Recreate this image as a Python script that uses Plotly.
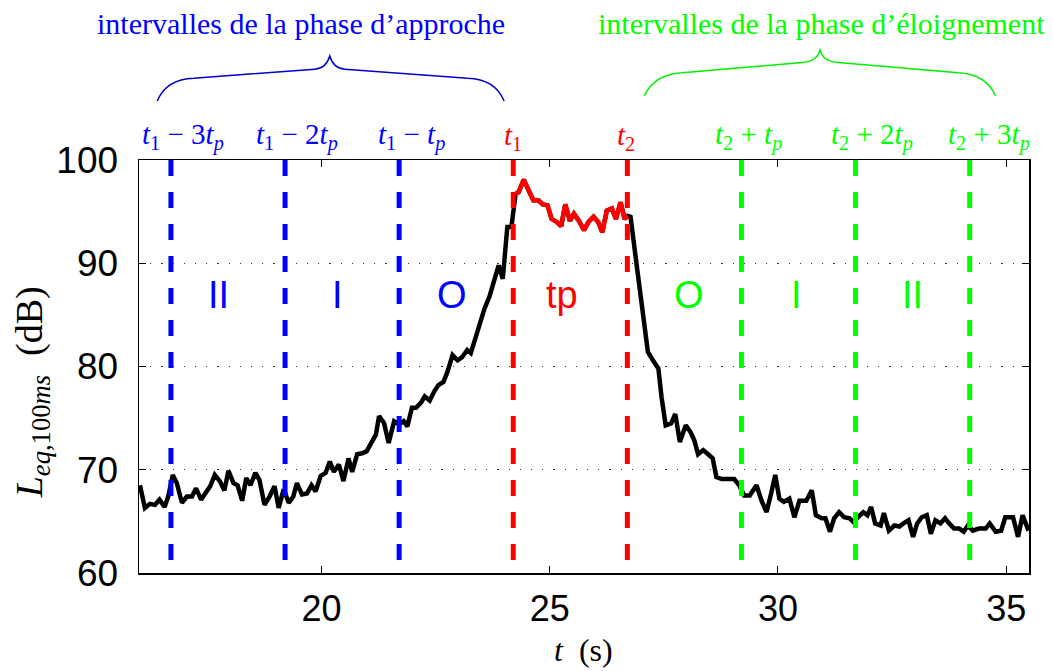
import plotly.graph_objects as go

# ---- data ----
t_approach = [16.02,16.13,16.24,16.35,16.45,16.56,16.64,16.74,16.83,16.94,
              17.05,17.16,17.25,17.36,17.45,17.56,17.66,17.77,17.87,17.96,
              18.07,18.16,18.26,18.35,18.44,18.55,18.64,18.75,18.86,18.97,
              19.06,19.17,19.28,19.38,19.46,19.57,19.68,19.78,19.87,19.98,
              20.09,20.18,20.27,20.38,20.48,20.59,20.67,20.78,20.89,20.99,
              21.09,21.19,21.26,21.37,21.47,21.59,21.70,21.80,21.88,21.98,
              22.07,22.18,22.26,22.37,22.47,22.56,22.67,22.76,22.87,22.98,
              23.08,23.19,23.27,23.38,23.48,23.57,23.68,23.79,23.88,23.97,
              24.07,24.16]
L_approach = [68.5,66.3,66.7,66.6,67.1,66.4,67.4,69.5,68.7,66.8,
              67.4,67.4,68.2,67.1,67.7,68.4,69.5,68.9,68.0,69.9,
              68.7,68.5,67.0,69.2,68.5,69.7,69.0,66.6,67.4,68.4,
              66.3,68.1,66.8,67.4,68.7,67.6,67.7,68.5,67.9,69.4,
              69.7,70.8,69.8,70.5,68.9,71.1,69.8,71.5,71.6,71.8,
              72.6,73.4,75.2,74.5,72.6,74.7,74.4,74.7,74.2,76.0,
              76.0,76.5,77.1,76.7,77.6,78.2,78.5,79.5,81.1,80.6,
              80.9,81.6,81.3,82.9,84.4,85.6,86.8,88.4,89.8,88.5,
              93.5,93.5]
t_pass = [24.25,24.32,24.43,24.52,24.64,24.75,24.85,24.95,25.04,25.15,
          25.25,25.34,25.44,25.53,25.64,25.75,25.85,25.96,26.06,26.15,
          26.25,26.36,26.45,26.55,26.64,26.71]
L_pass = [96.7,96.9,98.1,97.2,96.1,96.1,95.7,95.6,94.3,94.0,
          93.6,95.7,94.1,94.8,94.1,93.2,94.0,94.5,94.0,93.0,
          95.1,95.3,94.3,95.9,94.3,94.6]
t_recede = [26.77,26.89,27.00,27.15,27.26,27.38,27.45,27.54,27.66,27.75,
            27.85,27.98,28.09,28.17,28.25,28.36,28.47,28.57,28.65,28.77,
            28.89,29.04,29.15,29.26,29.38,29.53,29.64,29.75,29.85,29.94,
            30.03,30.13,30.25,30.36,30.47,30.62,30.74,30.83,30.96,31.04,
            31.14,31.23,31.34,31.45,31.57,31.66,31.75,31.87,31.96,32.04,
            32.13,32.25,32.32,32.43,32.55,32.66,32.75,32.86,32.96,33.05,
            33.15,33.26,33.35,33.45,33.56,33.66,33.75,33.86,33.97,34.07,
            34.16,34.27,34.40,34.55,34.64,34.77,34.89,34.98,35.15,35.26,
            35.36,35.49]
L_recede = [94.5,90.3,86.4,81.4,80.6,79.8,77.0,74.3,74.5,75.4,
            72.7,74.3,73.6,72.8,71.5,71.9,71.5,71.1,69.3,69.1,
            69.1,69.1,68.5,67.5,67.5,68.5,67.0,65.9,67.7,69.5,
            67.2,66.9,67.2,65.4,67.0,67.0,68.0,65.6,65.3,65.3,
            64.0,65.3,65.9,65.4,65.3,64.9,65.4,65.9,65.6,66.4,
            64.8,64.6,65.8,64.1,64.6,64.5,64.8,65.1,63.5,64.8,
            65.4,65.6,63.8,65.1,64.8,65.3,64.8,64.3,64.3,64.0,
            64.6,64.1,64.3,64.3,64.8,64.0,64.1,65.4,65.4,63.5,
            65.6,64.1]

t1 = 24.2
t2 = 26.7
tp = 2.5
line_times = [t1 - 3*tp, t1 - 2*tp, t1 - tp, t1, t2, t2 + tp, t2 + 2*tp, t2 + 3*tp]
line_colors = ["#0000FF", "#0000FF", "#0000FF", "#FF0000", "#FF0000", "#00FF00", "#00FF00", "#00FF00"]
line_labels = ["<i>t</i><sub>1</sub> − 3<i>t<sub>p</sub></i>",
               "<i>t</i><sub>1</sub> − 2<i>t<sub>p</sub></i>",
               "<i>t</i><sub>1</sub> − <i>t<sub>p</sub></i>",
               "<i>t</i><sub>1</sub>",
               "<i>t</i><sub>2</sub>",
               "<i>t</i><sub>2</sub> + <i>t<sub>p</sub></i>",
               "<i>t</i><sub>2</sub> + 2<i>t<sub>p</sub></i>",
               "<i>t</i><sub>2</sub> + 3<i>t<sub>p</sub></i>"]
label_offsets = [0.26, 0.26, 0.26, 0.0, -0.04, 0.15, 0.37, 0.42]

zone_names = ["II", "I", "O", "tp", "O", "I", "II"]
zone_colors = ["#0000FF", "#0000FF", "#0000FF", "#FF0000", "#00FF00", "#00FF00", "#00FF00"]
zone_offsets = [-0.2, -0.1, -0.09, -0.19, 0.09, -0.04, 0.0]
zone_level = 86.9

t_all = t_approach + t_pass + t_recede
L_all = L_approach + L_pass + L_recede

fig = go.Figure()
fig.add_trace(go.Scatter(x=t_all, y=L_all, mode="lines",
                         line=dict(color="black", width=4.5), hoverinfo="skip"))
fig.add_trace(go.Scatter(x=t_pass, y=L_pass, mode="lines",
                         line=dict(color="#FF0000", width=4.5), hoverinfo="skip"))
for tv, c in zip(line_times, line_colors):
    fig.add_trace(go.Scatter(x=[tv, tv], y=[100, 60], mode="lines",
                             line=dict(color=c, width=5, dash="16px,16px"),
                             hoverinfo="skip"))

serif = "Liberation Serif, DejaVu Serif, serif"
sans = "Liberation Sans, Arial, sans-serif"

ann = []
for tv, c, lab, off in zip(line_times, line_colors, line_labels, label_offsets):
    ann.append(dict(x=tv + off, y=1.056, xref="x", yref="paper", text=lab,
                    xanchor="center", yanchor="middle",
                    showarrow=False, font=dict(family=serif, size=29, color=c)))
for i, (name, c, off) in enumerate(zip(zone_names, zone_colors, zone_offsets)):
    xm = (line_times[i] + line_times[i + 1]) / 2 + off
    ann.append(dict(x=xm, y=zone_level, xref="x", yref="y", text=name,
                    xanchor="center", yanchor="middle",
                    showarrow=False, font=dict(family=sans, size=38, color=c)))
ann.append(dict(x=19.55, y=1.330, xref="x", yref="paper",
                text="intervalles de la phase d’approche", showarrow=False,
                xanchor="center", yanchor="middle",
                font=dict(family=serif, size=30, color="#0000FF")))
ann.append(dict(x=30.95, y=1.330, xref="x", yref="paper",
                text="intervalles de la phase d’éloignement", showarrow=False,
                xanchor="center", yanchor="middle",
                font=dict(family=serif, size=30, color="#00FF00")))
# axis titles
ann.append(dict(x=-0.12, y=0.438, xref="paper", yref="paper", textangle=-90,
                text="<i>L</i><sub><i>eq</i>,100<i>ms</i></sub>&nbsp;&nbsp;(dB)",
                showarrow=False, xanchor="center", yanchor="middle",
                font=dict(family=serif, size=38, color="black")))
ann.append(dict(x=0.499, y=-0.186, xref="paper", yref="paper",
                text="<i>t</i>&nbsp;&nbsp;(s)", showarrow=False,
                xanchor="center", yanchor="middle",
                font=dict(family=serif, size=32, color="black")))

shapes = [
    dict(type="path", xref="x", yref="paper",
         path="M 16.40,1.143 Q 16.6,1.196 17.2,1.198 L 19.85,1.220 Q 20.1,1.222 20.18,1.252 "
              "Q 20.26,1.222 20.51,1.220 L 23.2,1.198 Q 23.8,1.196 24.0,1.143",
         line=dict(color="#0000CC", width=1.5)),
    dict(type="path", xref="x", yref="paper",
         path="M 27.07,1.155 Q 27.3,1.208 27.9,1.211 L 30.53,1.236 Q 30.85,1.238 30.92,1.266 "
              "Q 30.99,1.238 31.32,1.236 L 33.95,1.211 Q 34.55,1.208 34.77,1.155",
         line=dict(color="#00EE00", width=1.5)),
]

fig.update_layout(
    width=1053, height=671,
    margin=dict(l=139, r=24, t=160, b=98, autoexpand=False),
    plot_bgcolor="white", paper_bgcolor="white",
    showlegend=False, hovermode=False,
    annotations=ann, shapes=shapes,
    xaxis=dict(range=[16, 35.5], tickvals=[20, 25, 30, 35], ticks="inside",
               ticklen=7, tickcolor="black", mirror="ticks", showline=True,
               linecolor="black", linewidth=1.5, showgrid=False, zeroline=False,
               automargin=False, ticklabelstandoff=3,
               tickfont=dict(family=sans, size=36, color="black")),
    yaxis=dict(range=[60, 100], tickvals=[60, 70, 80, 90, 100], ticks="inside",
               ticklen=7, tickcolor="black", mirror="ticks", showline=True,
               linecolor="black", linewidth=1.5, showgrid=True, gridcolor="#333333",
               griddash="1.2px,10px", gridwidth=1.2, zeroline=False,
               automargin=False, ticklabelstandoff=12,
               tickfont=dict(family=sans, size=37, color="black")),
)

fig.write_html("out.html", config={"displayModeBar": False, "staticPlot": True},
               post_script="document.body.style.margin='0';document.body.style.overflow='hidden';")
